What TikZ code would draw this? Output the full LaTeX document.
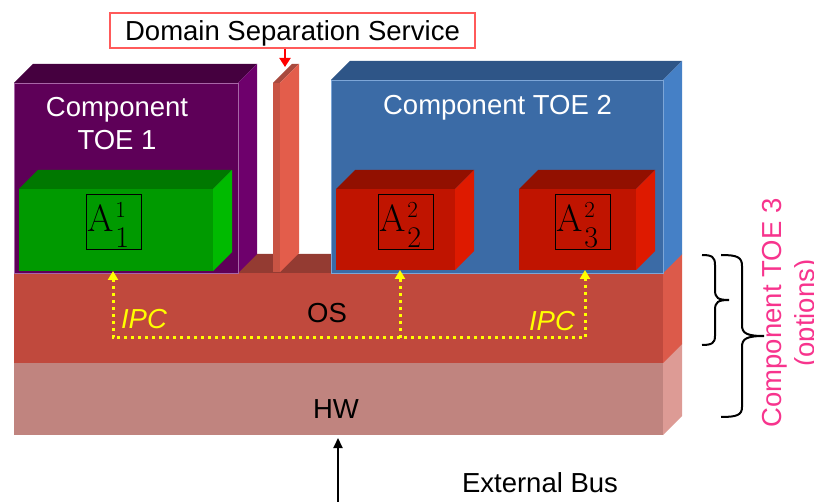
\RequirePackage{fix-cm}
\documentclass[tikz,border=0pt]{standalone}
\usepackage[no-math]{fontspec}
\setmainfont{Liberation Sans}
\usetikzlibrary{arrows.meta}
\definecolor{puF}{HTML}{5E0058}\definecolor{puT}{HTML}{45003F}\definecolor{puS}{HTML}{6E006C}
\definecolor{grF}{HTML}{009A00}\definecolor{grT}{HTML}{007800}\definecolor{grS}{HTML}{00BA00}
\definecolor{blF}{HTML}{3B6BA6}\definecolor{blT}{HTML}{2E5587}\definecolor{blS}{HTML}{4580C6}
\definecolor{rdF}{HTML}{C01400}\definecolor{rdT}{HTML}{921000}\definecolor{rdS}{HTML}{DE1A00}
\definecolor{piF}{HTML}{C85444}\definecolor{piT}{HTML}{A84A3E}\definecolor{piS}{HTML}{E35D4B}
\definecolor{osF}{HTML}{C0493D}\definecolor{osT}{HTML}{943B32}\definecolor{osS}{HTML}{DC5A4A}
\definecolor{hwF}{HTML}{C0847F}\definecolor{hwS}{HTML}{DD9B95}
\definecolor{pinkT}{HTML}{F7348D}\definecolor{domR}{HTML}{FF5A5A}
\definecolor{ipcY}{HTML}{FFFF00}
\newcommand{\mycube}[8]{%
  \node[face, fill=#6, minimum width={#4-#2}, minimum height={#5-#3}] (#1) at ({(#2+#4)/2},{(#3+#5)/2}) {};
  \fill[#7] (#1.north west) -- ++(19,-19) -- ([shift={(19,-19)}]#1.north east) -- (#1.north east) -- cycle;
  \fill[#8] (#1.north east) -- ++(19,-19) -- ([shift={(19,-19)}]#1.south east) -- (#1.south east) -- cycle;
}
\newcommand{\Alab}[2]{{\fontsize{38}{40}\selectfont$\mathrm{A}$}\kern2pt\rlap{\raisebox{14pt}{\fontsize{23}{25}\selectfont$#1$}}\raisebox{-16pt}{\fontsize{30}{32}\selectfont$#2$}}
\begin{document}
\begin{tikzpicture}[x=1pt,y=-1pt,
  face/.style={inner sep=0pt, outer sep=0pt, draw=none},
  txt/.style={font=\fontsize{27.5}{33}\selectfont, inner sep=0pt, anchor=base},
  wtxt/.style={txt, text=white},
  ipctxt/.style={txt, text=ipcY, font=\fontsize{27.5}{33}\selectfont\itshape},
  lbl/.style={draw=black, line width=1pt, text width=53pt, align=left, inner xsep=1pt, inner ysep=0pt,
              minimum height=55pt, text height=35pt, text depth=16pt},
  ipc/.style={draw=ipcY, line width=3pt, dash pattern=on 3pt off 4pt},
  bracestyle/.style={draw=black, line width=2pt},
  pinktxt/.style={txt, text=pinkT, rotate=90}]
\useasboundingbox (0,0) rectangle (814,502);
% lower layers
\mycube{hw}{14}{363}{663}{435}{hwF}{hwF}{hwS}
\mycube{os}{14}{273}{663}{363}{osF}{osT}{osS}
% separation pillar
\mycube{pill}{273}{83}{280}{272}{piF}{piT}{piS}
% component boxes
\mycube{toeA}{14}{83}{238}{273}{puF}{puT}{puS}
\draw[draw=puS!60!white, line width=0.8pt] (toeA.south west) rectangle (toeA.north east);
\mycube{toeB}{331}{80}{663}{273}{blF}{blT}{blS}
\draw[draw=blS!70!white, line width=0.8pt] (toeB.south west) rectangle (toeB.north east);
\mycube{grn}{19}{189}{213}{271}{grF}{grT}{grS}
\mycube{redB}{336}{189}{455}{270}{rdF}{rdT}{rdS}
\mycube{redC}{519}{189}{636}{270}{rdF}{rdT}{rdS}
% labels
\node[lbl] (labA) at (113.5,222.5) {\Alab{1}{1}};
\node[lbl] (labB) at (405.5,222.5) {\Alab{2}{2}};
\node[lbl] (labC) at (582.5,222.5) {\Alab{2}{3}};
% texts
\node[wtxt] (tA1) at (117,117) {Component};
\node[wtxt] (tA2) at (117,150) {TOE 1};
\node[wtxt] (tB) at (497.5,115) {Component TOE 2};
\node[txt] (tos) at (327,323) {OS};
\node[txt] (thw) at (336,418) {HW};
\node[ipctxt] (ipcL) at (144,329) {IPC};
\node[ipctxt] (ipcR) at (552,331) {IPC};
\node[txt] (tbus) at (540,492) {External Bus};
\node[pinktxt] (pA) at (781,313) {Component TOE 3};
\node[pinktxt] (pB) at (814,313) {(options)};
% domain separation label
\node[draw=domR, line width=1.5pt, fill=white, minimum width=365pt, minimum height=35pt, inner sep=0pt,
      text height=24pt, text depth=3pt, font=\fontsize{27.5}{33}\selectfont] (dom) at (292.5,30.5) {Domain Separation Service};
\coordinate (pilltop) at (285,67);
\draw[draw=red, line width=2pt, -{Triangle[width=11pt,length=9pt]}] (dom.south -| pilltop) -- (pilltop);
% IPC paths
\coordinate (ipcA) at (113,338);
\coordinate (ipcB) at (400,338);
\coordinate (ipcC) at (585,338);
\draw[ipc, {Triangle[width=10pt,length=9pt]}-{Triangle[width=10pt,length=9pt]}]
  (grn.south -| ipcA) -- (ipcA) -- (ipcC) -- (redC.south -| ipcC);
\draw[ipc, -{Triangle[width=10pt,length=9pt]}] (ipcB) -- (redB.south -| ipcB);
% external bus
\coordinate (busS) at (338,502);
\draw[line width=2pt, -{Triangle[width=9pt,length=10pt]}] (busS) -- ([yshift=-3pt]hw.south -| busS);
% braces
\draw[bracestyle] (702,255) .. controls (712,255) and (715,257) .. (715,265) -- (715,290)
  .. controls (715,298) and (718,300) .. (729,300) .. controls (718,300) and (715,302) .. (715,310)
  -- (715,336) .. controls (715,343) and (712,345) .. (702,345);
\draw[bracestyle] (721,255) .. controls (737,255) and (742,257) .. (742,266) -- (742,325)
  .. controls (742,333) and (746,336) .. (764,336) .. controls (746,336) and (742,339) .. (742,347)
  -- (742,407) .. controls (742,415) and (737,417) .. (721,417);
\end{tikzpicture}
\end{document}
